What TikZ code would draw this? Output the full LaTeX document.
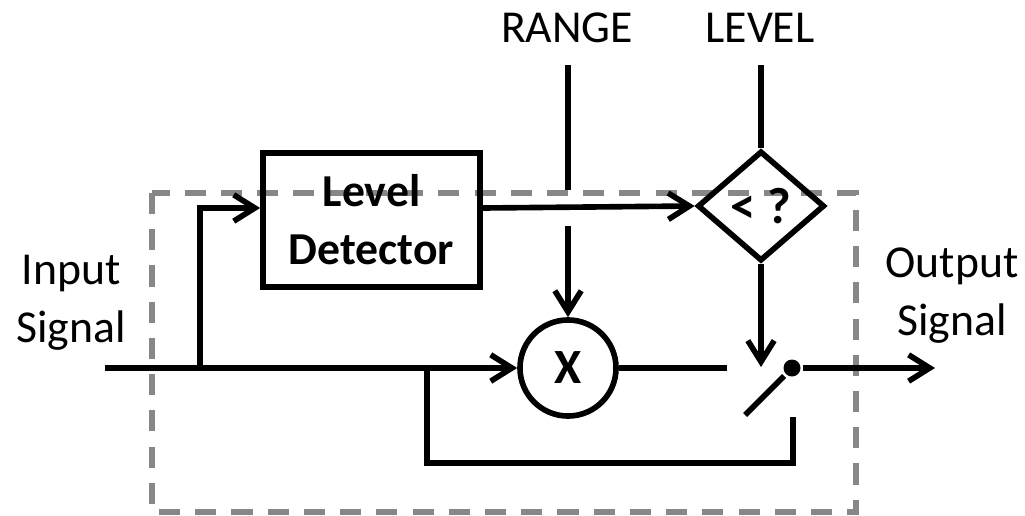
\documentclass[tikz,border=0pt]{standalone}
\usepackage{fontspec}
\setmainfont{Carlito}
\usetikzlibrary{shapes.geometric, arrows.meta, positioning}
\definecolor{framegray}{HTML}{878787}

\begin{document}
\begin{tikzpicture}[x=0.01cm, y=-0.01cm, line width=1.6pt,
                    >={Straight Barb[length=6pt, width=7.5pt]}]
  \tikzstyle{blk}=[rectangle, draw, minimum width=2.17cm, minimum height=1.34cm,
                   font=\fontsize{13}{16.5}\selectfont\bfseries, align=center]
  \tikzstyle{mult}=[circle, draw, minimum size=0.96cm, inner sep=0pt,
                   font=\fontsize{14}{16}\selectfont\bfseries]
  \tikzstyle{dia}=[diamond, draw, minimum width=1.27cm, minimum height=1.1cm,
                   inner sep=0pt, font=\fontsize{14.5}{16}\selectfont\bfseries]
  \tikzstyle{lbl}=[font=\fontsize{13}{16.3}\selectfont, align=center, inner sep=0pt]
  \tikzstyle{arr}=[->]
  \tikzstyle{frm}=[draw=framegray, line width=1.5pt, dash pattern=on 6pt off 4.3pt]

  \useasboundingbox (0,0) rectangle (1025,515);

  % enclosure
  \draw[frm] (152,193) rectangle (856,512);

  % blocks
  \node[blk] (det) at (371.5,220) {Level\\Detector};
  \node[mult] (mul) at (568,368) {X};
  \node[dia] (cmp) at (761,206) {< ?};
  \node[circle, fill, inner sep=0pt, minimum size=0.17cm] (dot) at (792,368) {};

  % labels
  \node[lbl, anchor=base] (range) at (567,42) {RANGE};
  \node[lbl, anchor=base] (level) at (760,42) {LEVEL};
  \node[lbl, anchor=base] (insig) at (71,342) {Input\\Signal};
  \node[lbl, anchor=base] (outsig) at (952,335) {Output\\Signal};

  % helper points
  \coordinate (inp) at (105,368);
  \coordinate (br) at (200,368);
  \coordinate (tap) at (427,368);
  \coordinate (rtop) at (568,65);
  \coordinate (rgap1) at (568,190);
  \coordinate (rgap2) at (568,226);
  \coordinate (ltop) at (761,65);
  \coordinate (swin) at (727,368);
  \coordinate (swlo) at (745,415);
  \coordinate (swfix) at (793,417);
  \coordinate (outp) at (935,368);

  % signal path
  \draw[arr] (inp) -- (mul);
  \draw[arr] (br) |- (det.west |- 0,208);
  \draw[arr] (det.east |- 0,208) -- (cmp.west);
  \draw (mul) -- (swin);
  \draw (dot) -- (swlo);
  \draw[arr] (dot) -- (outp);
  \draw (tap) -- (427,463) -| (swfix);

  % control inputs
  \draw (rtop) -- (rgap1);
  \draw[arr] (rgap2) -- (mul);
  \draw (ltop) -- (cmp.north);
  \draw[arr] (cmp.south) -- (761,367);
\end{tikzpicture}
\end{document}
